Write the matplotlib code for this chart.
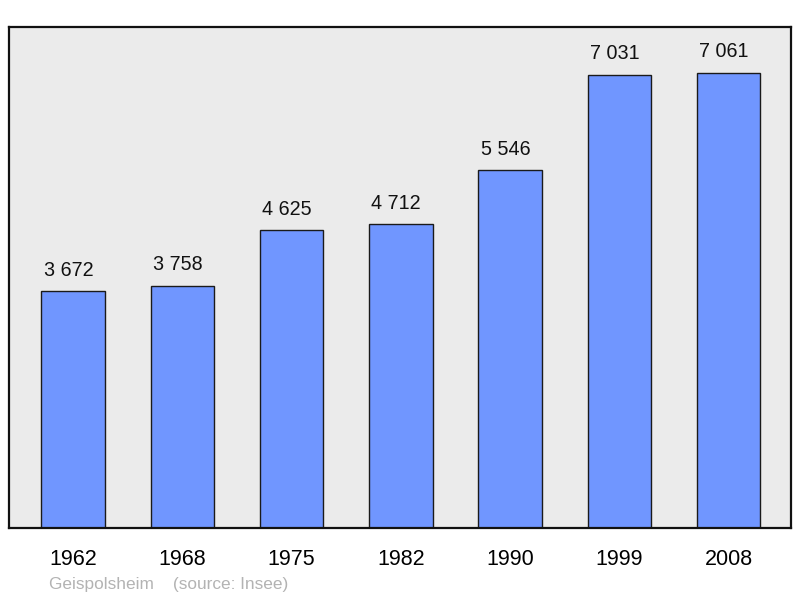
import matplotlib.pyplot as plt

plt.rcParams['font.family'] = ['Liberation Sans', 'DejaVu Sans']

years = ['1962', '1968', '1975', '1982', '1990', '1999', '2008']
population = [3672, 3758, 4625, 4712, 5546, 7031, 7061]
value_labels = ['3 672', '3 758', '4 625', '4 712', '5 546', '7 031', '7 061']

fig = plt.figure(figsize=(8, 5.98), dpi=100)
ax = fig.add_axes([9 / 800, 70 / 598, 782 / 800, 501 / 598])
ax.set_facecolor('#ebebeb')

x = range(len(years))
bars = ax.bar(x, population, width=0.58, color='#7096ff', edgecolor='#1a1a1a', linewidth=1.0)

# value labels sit a bit left of the bar centre in the original
for xi, val, lab in zip(x, population, value_labels):
    ax.annotate(lab, (xi, val), xytext=(-3.3, 11), textcoords='offset points',
                ha='center', va='baseline', fontsize=14.2, color='#111111')

ax.set_xlim(-0.585, 6.57)
ax.set_ylim(0, 7770)
ax.set_xticks(list(x))
ax.set_xticklabels(years, fontsize=15.5)
ax.tick_params(axis='x', length=0, pad=15)
ax.set_yticks([])
for s in ax.spines.values():
    s.set_linewidth(1.6)
    s.set_color('#111111')

fig.text(49 / 800, 1 - 584 / 598, 'Geispolsheim    (source: Insee)', fontsize=12.4,
         color='#b3b3b3', va='center', ha='left')

fig.savefig('out.png', dpi=100)
